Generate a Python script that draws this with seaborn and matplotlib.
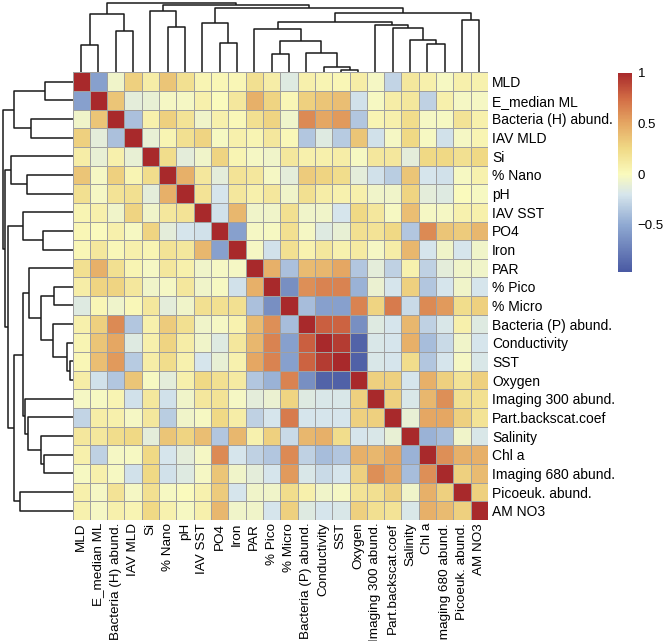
import numpy as np
import pandas as pd
import matplotlib
matplotlib.use('Agg')
import matplotlib.pyplot as plt
from matplotlib.colors import LinearSegmentedColormap
import seaborn as sns

plt.rcParams['font.family'] = ['Liberation Sans', 'DejaVu Sans']

# variables, in the order they appear on both axes
labels = ['MLD', 'E_median ML', 'Bacteria (H) abund.', 'IAV MLD', 'Si', '% Nano', 'pH',
          'IAV SST', 'PO4', 'Iron', 'PAR', '% Pico', '% Micro', 'Bacteria (P) abund.',
          'Conductivity', 'SST', 'Oxygen', 'Imaging 300 abund.', 'Part.backscat.coef',
          'Salinity', 'Chl a', 'Imaging 680 abund.', 'Picoeuk. abund.', 'AM NO3']

# lower triangle of the correlation matrix (row i, columns 0..i-1)
lower = [
    [],
    [-0.55],
    [-0.05, 0.35],
    [0.3, -0.12, -0.38],
    [0.1, -0.1, 0.08, -0.1],
    [0.35, -0.03, 0.3, 0.05, 0.22],
    [0.2, -0.03, 0.18, 0.2, -0.12, 0.45],
    [0.05, 0.08, -0.05, 0.28, -0.05, 0.15, 0.18],
    [0.03, 0.0, 0.08, -0.02, 0.28, -0.12, -0.2, -0.22],
    [0.03, 0.15, 0.02, 0.08, 0.05, 0.18, 0.15, 0.42, -0.55],
    [0.2, 0.45, 0.2, 0.05, -0.03, 0.15, 0.08, -0.05, -0.03, -0.03],
    [0.1, 0.28, 0.28, 0.15, -0.05, -0.03, 0.15, -0.05, -0.02, -0.22, 0.45],
    [-0.15, 0.03, -0.06, 0.02, 0.15, -0.12, -0.05, 0.2, 0.2, 0.2, -0.38, -0.65],
    [0.08, 0.3, 0.62, -0.35, 0.08, 0.32, 0.2, -0.05, -0.03, 0.06, 0.4, 0.6, -0.4],
    [0.05, 0.35, 0.5, -0.15, 0.08, 0.28, 0.1, -0.05, -0.15, 0.15, 0.42, 0.65, -0.55, 0.8],
    [0.03, 0.38, 0.55, -0.33, 0.1, 0.22, 0.07, -0.2, -0.1, 0.07, 0.5, 0.65, -0.55, 0.78, 0.93],
    [0.1, -0.22, -0.35, 0.35, -0.02, -0.12, 0.08, 0.25, 0.2, 0.12, -0.35, -0.45, 0.65, -0.65,
     -0.9, -0.92],
    [-0.03, -0.02, 0.05, -0.22, 0.15, -0.22, -0.05, 0.15, 0.18, -0.03, -0.12, -0.08, 0.28,
     -0.15, -0.18, -0.18, 0.3],
    [-0.28, 0.1, 0.08, -0.03, 0.15, -0.32, -0.05, -0.02, 0.25, 0.1, -0.3, -0.2, 0.68, -0.2,
     -0.2, -0.2, 0.3, 0.3],
    [0.15, 0.15, 0.22, 0.25, -0.12, 0.35, 0.28, 0.38, -0.35, 0.42, 0.07, 0.3, -0.25, 0.42,
     0.45, 0.22, -0.2, -0.18, -0.1],
    [0.08, -0.3, -0.03, -0.02, 0.25, -0.2, -0.12, -0.03, 0.62, -0.2, -0.3, -0.35, 0.62, -0.3,
     -0.4, -0.35, 0.45, 0.42, 0.5, -0.45],
    [-0.02, 0.08, -0.02, -0.22, 0.25, -0.22, -0.15, -0.03, 0.35, -0.05, -0.12, -0.2, 0.55,
     -0.18, -0.25, -0.2, 0.3, 0.6, 0.5, -0.4, 0.6],
    [0.08, -0.03, 0.18, -0.03, 0.2, -0.02, 0.0, 0.07, 0.32, -0.2, -0.05, -0.05, 0.22, 0.08,
     -0.05, -0.03, 0.18, 0.2, 0.3, -0.05, 0.45, 0.3],
    [0.07, -0.03, 0.08, 0.05, 0.25, 0.07, -0.02, 0.08, 0.42, -0.05, -0.05, -0.2, 0.3, -0.15,
     -0.2, -0.18, 0.3, 0.2, 0.18, -0.18, 0.45, 0.4, 0.3],
]

# clustering tree (same for rows and columns): merged pairs, new nodes numbered from 24
merges = [(15, 16), (14, 24), (11, 12), (13, 25), (0, 1), (20, 21), (8, 9), (26, 27),
          (19, 29), (2, 3), (10, 31), (18, 32), (5, 6), (17, 35), (7, 30), (34, 37),
          (22, 23), (28, 33), (39, 40), (4, 36), (38, 42), (43, 44), (41, 45)]
heights = [2.5, 5.3, 18.3, 19.0, 27.0, 28.7, 29.3, 31.3, 31.8, 41.3, 43.7, 44.5, 45.5,
           47.3, 49.3, 49.7, 51.8, 58.2, 58.7, 61.3, 63.7, 67.0, 68.7]

cbar_ticks = [-0.5, 0, 0.5, 1]
cbar_labels = ['\u22120.5', '0', '0.5', '1']

# muted blue-yellow-red scale like the original (value -> colour)
vmin, vmax = -0.96, 1.0
scale_values = [-0.96, -0.5, -0.2, 0.0, 0.25, 0.5, 0.75, 1.0]
scale_colors = ['#4a5aa3', '#8fa9d2', '#d6e5ec', '#fafabd', '#f0da86', '#e5a763',
                '#d26c45', '#a8292b']

n = len(labels)
corr = np.eye(n)
for i, row in enumerate(lower):
    for j, v in enumerate(row):
        corr[i, j] = v
        corr[j, i] = v
df = pd.DataFrame(corr, index=labels, columns=labels)

# linkage matrix in scipy format
sizes = [1] * n
Z = []
for (a, b), h in zip(merges, heights):
    sizes.append(sizes[a] + sizes[b])
    Z.append([a, b, h, sizes[-1]])
Z = np.array(Z, dtype=float)

stops = [(v - vmin) / (vmax - vmin) for v in scale_values]
cmap = LinearSegmentedColormap.from_list('muted_rdylbu', list(zip(stops, scale_colors)))

g = sns.clustermap(df, row_linkage=Z, col_linkage=Z, cmap=cmap,
                   vmin=vmin, vmax=vmax, linewidths=0.7, linecolor='#a0a0a0',
                   xticklabels=True, yticklabels=True, figsize=(6.63, 6.41),
                   tree_kws=dict(linewidths=1.1, colors='#1a1a1a'))

# place the panels like the original layout (pixels from top left)
W, H = 663, 641
def box(x0, y0, x1, y1):
    return [x0 / W, 1 - y1 / H, (x1 - x0) / W, (y1 - y0) / H]

g.ax_heatmap.set_position(box(72.5, 72.3, 488, 520))
g.ax_row_dendrogram.set_position(box(0, 72.3, 72.5, 520))
g.ax_col_dendrogram.set_position(box(72.5, 0, 488, 72.3))
g.ax_cbar.set_position(box(618, 72.7, 632, 271.7))

hm = g.ax_heatmap
hm.set_xlabel('')
hm.set_ylabel('')
hm.tick_params(axis='y', length=0, labelsize=10, pad=3)
hm.tick_params(axis='x', length=0, labelsize=9.7, pad=2)
plt.setp(hm.get_xticklabels(), rotation=90)
plt.setp(hm.get_yticklabels(), rotation=0)

cb = hm.collections[0].colorbar
cb.set_ticks(cbar_ticks, labels=cbar_labels)
cb.outline.set_visible(False)
g.ax_cbar.tick_params(length=0, labelsize=9.5, pad=4)

g.figure.savefig('out.png', dpi=100)
